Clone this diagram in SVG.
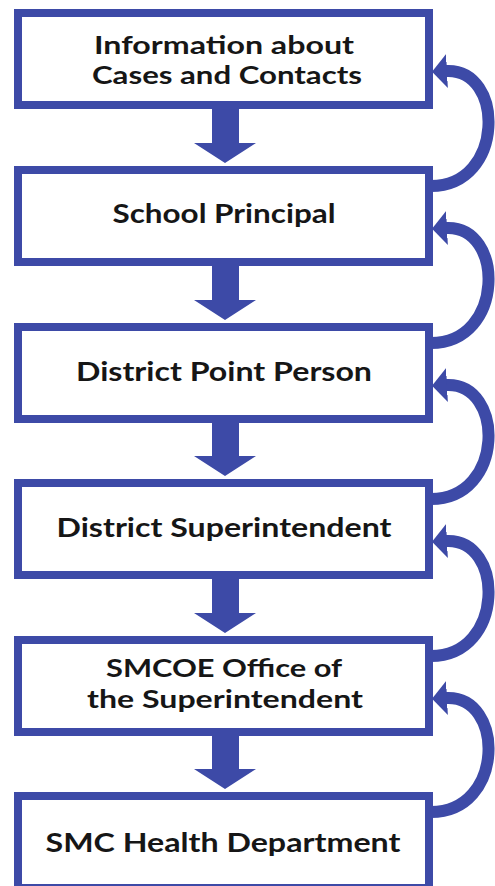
<svg xmlns="http://www.w3.org/2000/svg" width="495" height="886" viewBox="0 0 495 886">
<style>
.box{fill:#ffffff;stroke:#3d4aa7;stroke-width:8}
.lbl{font-family:Lato,"Open Sans","Liberation Sans",sans-serif;font-weight:700;font-size:26px;fill:#161616;text-anchor:middle}
.two{font-size:24px}
.down{fill:#3d4aa7}
.back{fill:none;stroke:#3d4aa7;stroke-width:12}
</style>
<defs>
<marker id="head" markerUnits="userSpaceOnUse" markerWidth="16" markerHeight="34" viewBox="0 0 16 34" refX="1" refY="17" orient="auto">
<path d="M0,0 L15,17 L0,34 z" fill="#3d4aa7"/>
</marker>
</defs>
<rect width="495" height="886" fill="#ffffff"/>
<g id="connectors">
<polygon class="down" points="212,109 239,109 239,143 256,143 225,163 194,143 212,143"/>
<polygon class="down" points="212,266 239,266 239,300 256,300 225,320 194,300 212,300"/>
<polygon class="down" points="212,423 239,423 239,456 256,456 225,476 194,456 212,456"/>
<polygon class="down" points="212,579 239,579 239,613 256,613 225,633 194,613 212,613"/>
<polygon class="down" points="212,736 239,736 239,769 256,769 225,789 194,769 212,769"/>
<path class="back" marker-end="url(#head)" d="M431,186 C505,186 505,68 446,71"/>
<path class="back" marker-end="url(#head)" d="M431,343 C505,343 505,225 446,228"/>
<path class="back" marker-end="url(#head)" d="M431,499 C505,499 505,382 446,385"/>
<path class="back" marker-end="url(#head)" d="M431,656 C505,656 505,538 446,541"/>
<path class="back" marker-end="url(#head)" d="M431,812 C505,812 505,695 446,698"/>
</g>
<g id="node1">
<rect class="box" x="18" y="13" width="411" height="92"/>
<text class="lbl two" x="224" y="54" textLength="260" lengthAdjust="spacingAndGlyphs">Information about</text>
<text class="lbl two" x="227" y="84" textLength="270" lengthAdjust="spacingAndGlyphs">Cases and Contacts</text>
</g>
<g id="node2">
<rect class="box" x="18" y="170" width="411" height="92"/>
<text class="lbl" x="224" y="223" textLength="223" lengthAdjust="spacingAndGlyphs">School Principal</text>
</g>
<g id="node3">
<rect class="box" x="18" y="327" width="411" height="92"/>
<text class="lbl" x="224" y="381" textLength="296" lengthAdjust="spacingAndGlyphs">District Point Person</text>
</g>
<g id="node4">
<rect class="box" x="18" y="483" width="411" height="92"/>
<text class="lbl" x="224" y="537" textLength="335" lengthAdjust="spacingAndGlyphs">District Superintendent</text>
</g>
<g id="node5">
<rect class="box" x="18" y="640" width="411" height="92"/>
<text class="lbl two" x="224" y="677" textLength="236" lengthAdjust="spacingAndGlyphs">SMCOE Office of</text>
<text class="lbl two" x="225" y="708" textLength="276" lengthAdjust="spacingAndGlyphs">the Superintendent</text>
</g>
<g id="node6">
<rect class="box" x="18" y="796" width="411" height="92"/>
<text class="lbl" x="223" y="852" textLength="355" lengthAdjust="spacingAndGlyphs">SMC Health Department</text>
</g>
</svg>
